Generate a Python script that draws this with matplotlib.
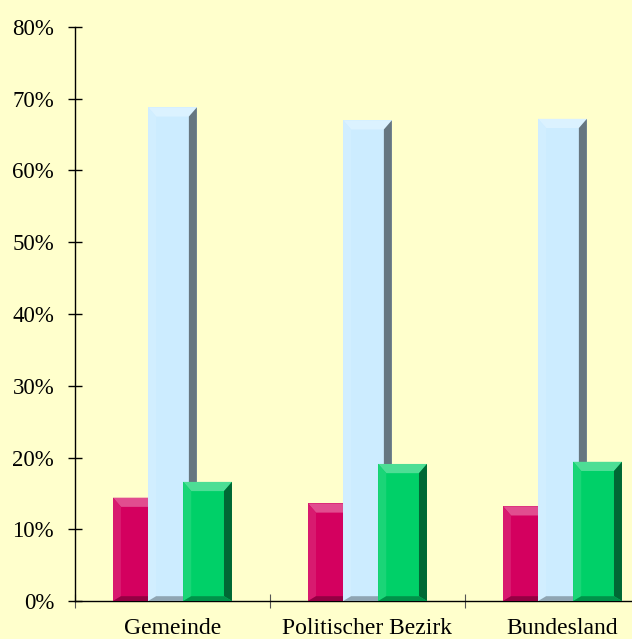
import matplotlib

matplotlib.use("Agg")
import matplotlib.pyplot as plt
import numpy as np
from matplotlib.colors import to_rgb
from matplotlib.patches import Polygon
from matplotlib.ticker import FuncFormatter

categories = ["Gemeinde", "Politischer Bezirk", "Bundesland"]
series_a = [14.4, 13.6, 13.2]   # magenta
series_b = [68.8, 67.0, 67.2]   # light blue
series_c = [16.6, 19.1, 19.4]   # green
y_ticks = [0, 10, 20, 30, 40, 50, 60, 70, 80]

_BG = "#FFFFCC"
_COLORS = ["#D4005F", "#CCECFF", "#00D068"]
_INK = "#000000"


def _mix(c, other, t):
    c = np.array(to_rgb(c))
    o = np.array(to_rgb(other))
    return tuple(c * (1 - t) + o * t)


def _bevel(ax, bar, color, px=8.0, zorder=3):
    """Overlay bevel faces on a bar (light top/left, dark right/bottom)."""
    x0, y0 = bar.get_x(), bar.get_y()
    x1, y1 = x0 + bar.get_width(), y0 + bar.get_height()
    to_disp = ax.transData.transform
    to_data = ax.transData.inverted().transform
    (dx0, dy0), (dx1, dy1) = to_disp([(x0, y0), (x1, y1)])
    b = min(px, (dx1 - dx0) / 3, (dy1 - dy0) / 3)
    bb = b * 0.6
    bt = b * 1.15
    outer = [(dx0, dy0), (dx1, dy0), (dx1, dy1), (dx0, dy1)]
    inner = [(dx0 + b, dy0 + bb), (dx1 - b, dy0 + bb), (dx1 - b, dy1 - bt), (dx0 + b, dy1 - bt)]
    faces = [
        ([outer[3], outer[2], inner[2], inner[3]], _mix(color, "white", 0.3)),   # top
        ([outer[0], outer[3], inner[3], inner[0]], _mix(color, "white", 0.1)),   # left
        ([outer[1], outer[2], inner[2], inner[1]], _mix(color, "black", 0.5)),   # right
        ([outer[0], outer[1], inner[1], inner[0]], _mix(color, "black", 0.3)),   # bottom
    ]
    for pts, fc in faces:
        ax.add_patch(Polygon(to_data(pts), closed=True, facecolor=fc,
                             edgecolor="none", zorder=zorder + 0.1))


plt.rcParams.update({"font.family": "serif", "font.serif": ["Liberation Serif", "DejaVu Serif"]})
fig = plt.figure(figsize=(6.32, 6.39), dpi=100)
fig.patch.set_facecolor(_BG)
W, H = 632, 639
ax = fig.add_axes([75 / W, (H - 601) / H, (660 - 75) / W, (601 - 27) / H])
ax.set_facecolor(_BG)
ax.set_xlim(0, 3)
ax.set_ylim(0, 80)

pos = np.arange(len(categories)) + 0.5
width, step = 0.25, 0.18
groups = [series_a, series_b, series_c]
bars_all = []
for k, (vals, col) in enumerate(zip(groups, _COLORS)):
    bars = ax.bar(pos + (k - 1) * step, vals, width=width, color=col,
                  edgecolor="none", zorder=3 + k)
    bars_all.append((bars, col, 3 + k))

for bars, col, z in bars_all:
    for bar in bars:
        _bevel(ax, bar, col, zorder=z)

for side in ("top", "right"):
    ax.spines[side].set_visible(False)
for side in ("left", "bottom"):
    ax.spines[side].set_color(_INK)
    ax.spines[side].set_linewidth(1.0)

ax.set_yticks(y_ticks)
ax.yaxis.set_major_formatter(FuncFormatter(lambda v, _p: f"{v:.0f}%"))
ax.tick_params(axis="y", direction="inout", length=10, width=1, pad=10,
               labelsize=16.5, colors=_INK)
ax.set_xticks([0, 1, 2, 3])
ax.set_xticklabels([])
ax.set_xticks(pos, minor=True)
ax.set_xticklabels(categories, minor=True)
ax.tick_params(axis="x", which="major", direction="inout", length=10, width=0.8, color="#555555")
ax.tick_params(axis="x", which="minor", length=0, pad=12, labelsize=17, colors=_INK)

fig.savefig("out.png", dpi=100, facecolor=_BG)
